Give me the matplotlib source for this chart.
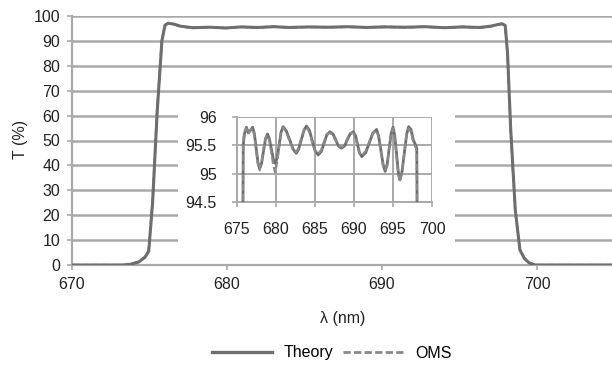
import matplotlib
matplotlib.use("Agg")
import matplotlib.pyplot as plt
from matplotlib.lines import Line2D

plt.rcParams['font.family'] = ['Liberation Sans', 'DejaVu Sans']

# Main curve (Theory) and measured (OMS)
wl_main = [670.0, 673.3, 673.8, 674.3, 674.7, 674.95, 675.2, 675.5, 675.8, 676.0, 676.2,
           676.6, 677.0, 677.8, 678.9, 679.9, 680.9, 682.0, 683.0, 684.0, 685.2, 686.5,
           687.8, 689.0, 690.2, 691.5, 692.8, 694.0, 695.2, 696.3, 697.0, 697.5, 697.75,
           697.95, 698.1, 698.3, 698.6, 698.9, 699.2, 699.5, 699.9, 705.0]
t_theory = [0.0, 0.0, 0.3, 1.2, 3.0, 5.5, 25.0, 62.0, 90.0, 96.3, 97.1,
            96.7, 95.9, 95.3, 95.5, 95.2, 95.6, 95.4, 95.7, 95.4, 95.6, 95.5,
            95.7, 95.4, 95.6, 95.5, 95.7, 95.3, 95.6, 95.4, 95.9, 96.6, 96.9,
            96.2, 85.0, 55.0, 22.0, 6.0, 2.5, 0.8, 0.0, 0.0]
t_oms = [0.0, 0.0, 0.4, 1.4, 3.3, 6.0, 26.0, 63.0, 90.5, 96.4, 97.0,
         96.6, 95.8, 95.2, 95.6, 95.1, 95.7, 95.3, 95.8, 95.3, 95.6, 95.5,
         95.6, 95.5, 95.7, 95.4, 95.7, 95.2, 95.7, 95.3, 95.8, 96.5, 96.8,
         96.1, 84.0, 54.0, 21.5, 6.2, 2.7, 0.9, 0.0, 0.0]

# Inset detail
wl_in = [675.75, 675.8, 675.95, 676.2, 676.45, 676.7, 677.0,
         677.22, 677.45, 677.68, 677.9, 678.15, 678.4, 678.65, 678.9,
         679.15, 679.4, 679.65, 679.9, 680.15, 680.4, 680.65, 680.9,
         681.3, 681.75, 682.2, 682.6, 682.9, 683.25, 683.6, 683.9,
         684.3, 684.65, 685.0, 685.4, 685.8, 686.15, 686.5, 686.9,
         687.3, 687.65, 688.0, 688.4, 688.8, 689.15, 689.5, 689.9,
         690.2, 690.45, 690.7, 691.0, 691.5, 691.95, 692.4, 692.9,
         693.15, 693.45, 693.75, 694.0, 694.25, 694.5, 694.75, 695.0,
         695.22, 695.45, 695.68, 695.9, 696.15, 696.45, 696.75, 697.0,
         697.3, 697.6, 697.9, 698.05, 698.1]
t_in_theory = [94.0, 95.5, 95.7, 95.82, 95.72, 95.76, 95.82,
               95.71, 95.46, 95.20, 95.09, 95.18, 95.40, 95.61, 95.70,
               95.62, 95.44, 95.26, 95.18, 95.28, 95.50, 95.73, 95.83,
               95.76, 95.60, 95.43, 95.36, 95.43, 95.60, 95.77, 95.84,
               95.76, 95.58, 95.41, 95.33, 95.39, 95.53, 95.68, 95.74,
               95.70, 95.60, 95.49, 95.45, 95.49, 95.60, 95.70, 95.74,
               95.67, 95.52, 95.37, 95.30, 95.37, 95.54, 95.71, 95.78,
               95.67, 95.41, 95.15, 95.04, 95.16, 95.43, 95.70, 95.82,
               95.68, 95.36, 95.03, 94.89, 95.03, 95.36, 95.69, 95.83,
               95.78, 95.60, 95.50, 95.45, 94.0]
t_in_oms = [94.0, 95.55, 95.74, 95.80, 95.70, 95.78, 95.80,
            95.68, 95.42, 95.17, 95.06, 95.20, 95.44, 95.63, 95.68,
            95.58, 95.38, 95.15, 95.02, 95.20, 95.48, 95.74, 95.82,
            95.74, 95.57, 95.42, 95.38, 95.46, 95.63, 95.78, 95.82,
            95.73, 95.55, 95.40, 95.35, 95.42, 95.56, 95.69, 95.72,
            95.68, 95.58, 95.50, 95.47, 95.51, 95.62, 95.71, 95.72,
            95.64, 95.49, 95.36, 95.32, 95.40, 95.56, 95.72, 95.76,
            95.64, 95.38, 95.13, 95.06, 95.19, 95.45, 95.71, 95.80,
            95.64, 95.30, 94.98, 94.86, 95.02, 95.38, 95.71, 95.80,
            95.74, 95.56, 95.46, 95.40, 94.0]

main_yticks = list(range(0, 101, 10))
main_xticks = [670, 680, 690, 700]
in_xticks = [675, 680, 685, 690, 695, 700]
in_yticks = [94.5, 95, 95.5, 96]
in_yticklabels = ['94.5', '95', '95.5', '96']

W, H = 612, 370
fig = plt.figure(figsize=(W / 100, H / 100), dpi=100)

line_c = '#6e6e6e'
grid_c = '#a9a9a9'
txt_c = '#222222'
fs = 11.5
dash = (0, (3.1, 1.35))

ax = fig.add_axes([72 / W, 1 - 265 / H, (612 - 72) / W, (265 - 16) / H])
ax.plot(wl_main, t_theory, color=line_c, lw=2.2, solid_capstyle='round', zorder=3)
ax.plot(wl_main, t_oms, color=line_c, lw=1.6, ls=dash, zorder=3)
ax.set_xlim(670, 670 + 540 / 15.5)
ax.set_ylim(0, 100)
ax.set_yticks(main_yticks)
ax.set_xticks(main_xticks)
ax.yaxis.grid(True, color=grid_c, lw=1.8)
ax.set_axisbelow(True)
for s in ['top', 'right']:
    ax.spines[s].set_visible(False)
for s in ['left', 'bottom']:
    ax.spines[s].set_color(grid_c)
    ax.spines[s].set_linewidth(1.6)
ax.tick_params(axis='both', colors=grid_c, labelcolor=txt_c, labelsize=fs,
               length=3.6, width=1.2, pad=5)
fig.text(343 / W, 1 - 318 / H, 'λ (nm)', ha='center', va='center', fontsize=fs, color=txt_c)
fig.text(20 / W, 1 - 139 / H, 'T (%)', ha='center', va='center', rotation=90,
         fontsize=fs, color=txt_c)

leg_handles = [Line2D([], [], color=line_c, lw=2.4),
               Line2D([], [], color='#888888', lw=2.0, ls=(0, (2.6, 1.2)))]
fig.legend(leg_handles, ['Theory', 'OMS'], loc='center', ncol=2,
           bbox_to_anchor=(331.5 / W, 1 - 353 / H), frameon=False, fontsize=fs,
           handlelength=3.75, handletextpad=0.75, columnspacing=0.6,
           borderaxespad=0, borderpad=0)

# white box behind inset
box = fig.add_axes([178 / W, 1 - 250 / H, (455 - 178) / W, (250 - 105) / H])
box.set_facecolor('white')
box.set_xticks([]); box.set_yticks([])
for s in box.spines.values():
    s.set_visible(False)

ins = fig.add_axes([237 / W, 1 - 202 / H, (432 - 237) / W, (202 - 117) / H])
ins.plot(wl_in, t_in_theory, color=line_c, lw=2.0, zorder=3)
ins.plot(wl_in, t_in_oms, color='#8a8a8a', lw=1.6, ls=dash, zorder=3)
ins.set_xlim(675, 700)
ins.set_ylim(94.5, 96)
ins.set_xticks(in_xticks)
ins.set_yticks(in_yticks)
ins.set_yticklabels(in_yticklabels)
ins.grid(True, color=grid_c, lw=1.4)
ins.set_axisbelow(True)
for s in ['top', 'right']:
    ins.spines[s].set_visible(False)
for s in ['left', 'bottom']:
    ins.spines[s].set_color(grid_c)
    ins.spines[s].set_linewidth(1.4)
ins.tick_params(axis='both', colors=grid_c, labelcolor=txt_c, labelsize=fs,
                length=3.6, width=1.2)
ins.tick_params(axis='y', pad=11)
ins.tick_params(axis='x', pad=11)

fig.savefig('out.png', dpi=100)
